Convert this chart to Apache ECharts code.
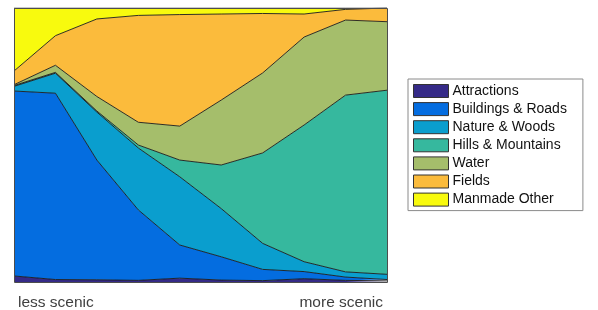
<!DOCTYPE html>
<html>
<head>
<meta charset="utf-8">
<script src="https://cdn.jsdelivr.net/npm/echarts@6/dist/echarts.min.js"></script>
<style>
html,body{margin:0;padding:0;background:#fff;}
#chart{width:598px;height:310px;}
</style>
</head>
<body>
<div id="chart"></div>
<script>
var categories = ['1','2','3','4','5','6','7','8','9','10'];
var endLabels = ['less scenic', 'more scenic'];
var seriesNames = ['Attractions','Buildings & Roads','Nature & Woods','Hills & Mountains','Water','Fields','Manmade Other'];
var attractions = [0.022, 0.009, 0.008, 0.006, 0.014, 0.007, 0.005, 0.012, 0.006, 0.004];
var buildings   = [0.675, 0.680, 0.437, 0.257, 0.121, 0.085, 0.041, 0.026, 0.012, 0.005];
var nature      = [0.017, 0.073, 0.175, 0.226, 0.249, 0.176, 0.095, 0.036, 0.019, 0.019];
var hills       = [0.003, 0.003, 0.004, 0.011, 0.061, 0.159, 0.330, 0.499, 0.645, 0.672];
var water       = [0.003, 0.026, 0.053, 0.083, 0.124, 0.237, 0.292, 0.321, 0.274, 0.250];
var fields      = [0.050, 0.108, 0.283, 0.390, 0.407, 0.314, 0.217, 0.084, 0.039, 0.050];
var manmade     = [0.230, 0.101, 0.040, 0.027, 0.024, 0.022, 0.020, 0.022, 0.005, 0.000];
var colors = ['#352a87','#046de0','#0a9ece','#36b89e','#a5be6b','#fbbb3c','#f8fa0e'];

var values = [attractions, buildings, nature, hills, water, fields, manmade];
var chart = echarts.init(document.getElementById('chart'));
var series = seriesNames.map(function(n, i){
  return {
    name: n, type: 'line', stack: 'total', data: values[i],
    showSymbol: false, symbol: 'none', smooth: false,
    itemStyle: { color: colors[i] },
    lineStyle: { color: '#1a1a1a', width: 0.9 },
    areaStyle: { color: colors[i], opacity: 1 },
    z: 2
  };
});
chart.setOption({
  animation: false,
  grid: { left: 14, right: 211, top: 8, bottom: 28 },
  xAxis: { type: 'category', data: categories, boundaryGap: false,
    axisLine: { show: false }, axisTick: { show: false }, axisLabel: { show: false }, splitLine: { show: false } },
  yAxis: { type: 'value', min: 0, max: 1,
    axisLine: { show: false }, axisTick: { show: false }, axisLabel: { show: false }, splitLine: { show: false } },
  legend: {
    orient: 'vertical', left: 408, top: 79,
    icon: 'rect', itemWidth: 35, itemHeight: 13, itemGap: 4.1,
    padding: [5, 16, 4, 5],
    borderColor: '#8a8a8a', borderWidth: 1, backgroundColor: '#fff',
    itemStyle: { borderColor: '#333', borderWidth: 1 },
    textStyle: { fontFamily: 'Liberation Sans', fontSize: 14, lineHeight: 13, color: '#111', padding: [0,0,0,-1] },
    data: seriesNames
  },
  graphic: [
    { type: 'rect', shape: { x: 14.5, y: 8.5, width: 373, height: 274 }, z: 100,
      style: { fill: 'none', stroke: '#4d4d4d', lineWidth: 1 } },
    { type: 'text', z: 100,
      style: { x: 18, y: 294.5, text: endLabels[0], font: '15.5px "Liberation Sans"', fill: '#404040', verticalAlign: 'top', align: 'left' } },
    { type: 'text', z: 100,
      style: { x: 383, y: 294.5, text: endLabels[1], font: '15.5px "Liberation Sans"', fill: '#404040', verticalAlign: 'top', align: 'right' } }
  ],
  series: series
});
</script>
</body>
</html>
